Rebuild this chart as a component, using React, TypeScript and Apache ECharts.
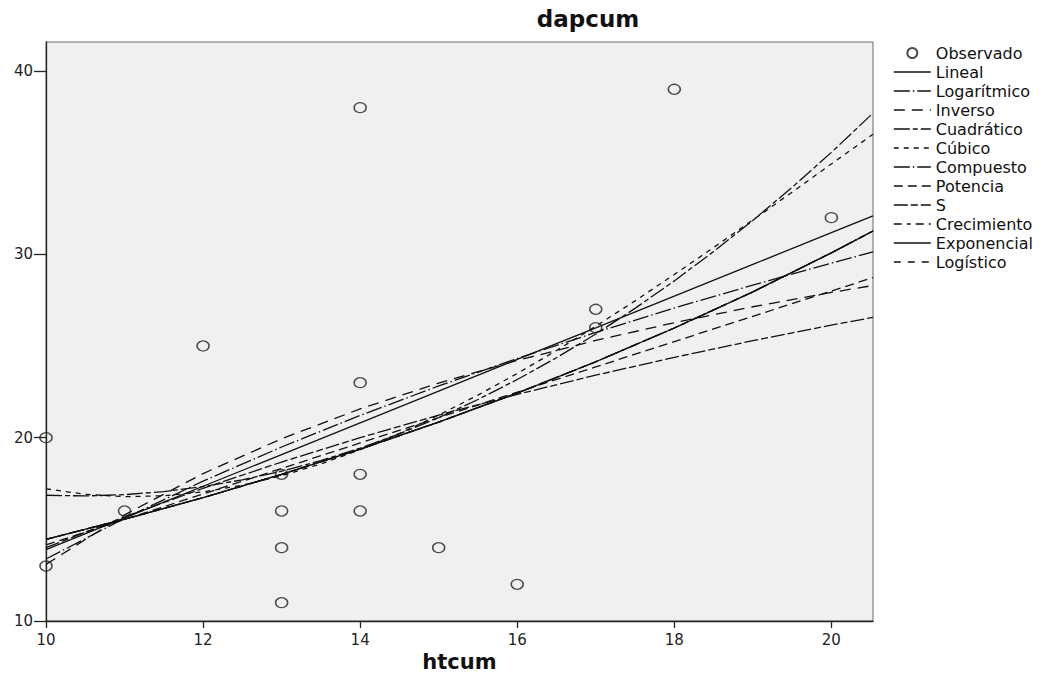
import React, { useEffect, useRef } from "react";
import * as echarts from "echarts";

// Observed points (htcum, dapcum)
const observedX = [10, 10, 11, 12, 13, 13, 13, 13, 14, 14, 14, 14, 15, 16, 17, 17, 18, 20];
const observedY = [20, 13, 16, 25, 18, 16, 14, 11, 38, 23, 18, 16, 14, 12, 27, 26, 39, 32];

// Fitted curves read along the x axis
const curveX = [10, 11, 12, 13, 14, 15, 16, 17, 18, 19, 20, 20.53];
const lineal = [13.89, 15.62, 17.35, 19.08, 20.81, 22.54, 24.27, 25.99, 27.72, 29.45, 31.18, 32.1];
const logaritmico = [13.38, 15.6, 17.63, 19.49, 21.21, 22.82, 24.32, 25.74, 27.07, 28.32, 29.52, 30.13];
const inverso = [13.09, 15.79, 18.04, 19.94, 21.57, 22.98, 24.21, 25.3, 26.27, 27.14, 27.92, 28.3];
const compuesto = [14.45, 15.55, 16.73, 18.0, 19.37, 20.85, 22.43, 24.14, 25.98, 27.95, 30.08, 31.27];
const potencia = [14.15, 15.54, 16.93, 18.32, 19.71, 21.09, 22.48, 23.86, 25.24, 26.62, 28.0, 28.73];
const sCurva = [14.0, 15.68, 17.24, 18.67, 20.0, 21.23, 22.36, 23.41, 24.38, 25.29, 26.14, 26.56];
const crecimiento = [14.45, 15.55, 16.73, 18.0, 19.37, 20.85, 22.43, 24.14, 25.98, 27.95, 30.08, 31.27];
const exponencial = [14.45, 15.55, 16.73, 18.0, 19.37, 20.85, 22.43, 24.14, 25.98, 27.95, 30.08, 31.27];
const logistico = [14.45, 15.55, 16.73, 18.0, 19.37, 20.85, 22.43, 24.14, 25.98, 27.95, 30.08, 31.27];

const polyX = [10, 10.5, 11, 11.5, 12, 12.5, 13, 13.5, 14, 14.5, 15, 15.5, 16, 16.5, 17, 17.5, 18, 18.5, 19, 19.5, 20, 20.53];
const cuadratico = [16.86, 16.82, 16.89, 17.06, 17.33, 17.7, 18.17, 18.75, 19.43, 20.21, 21.09, 22.08, 23.17, 24.36, 25.65, 27.05, 28.55, 30.15, 31.85, 33.65, 35.56, 37.7];
const cubico = [17.21, 16.91, 16.78, 16.83, 17.04, 17.41, 17.92, 18.57, 19.34, 20.23, 21.23, 22.32, 23.5, 24.75, 26.08, 27.46, 28.9, 30.37, 31.87, 33.39, 34.93, 36.55];

const xTicks = [10, 12, 14, 16, 18, 20];
const yTicks = [10, 20, 30, 40];

const curves: { name: string; x: number[]; y: number[] }[] = [
  { name: "Lineal", x: curveX, y: lineal },
  { name: "Logarítmico", x: curveX, y: logaritmico },
  { name: "Inverso", x: curveX, y: inverso },
  { name: "Cuadrático", x: polyX, y: cuadratico },
  { name: "Cúbico", x: polyX, y: cubico },
  { name: "Compuesto", x: curveX, y: compuesto },
  { name: "Potencia", x: curveX, y: potencia },
  { name: "S", x: curveX, y: sCurva },
  { name: "Crecimiento", x: curveX, y: crecimiento },
  { name: "Exponencial", x: curveX, y: exponencial },
  { name: "Logístico", x: curveX, y: logistico },
];

const dashStyle: Record<string, any> = {
  Lineal: "solid",
  "Logarítmico": [16, 3, 1.5, 3],
  Inverso: [11, 7],
  "Cuadrático": [16, 3, 5, 3],
  "Cúbico": [5, 5],
  Compuesto: [16, 3, 1.5, 3],
  Potencia: [9, 5],
  S: [14, 3, 7, 3],
  Crecimiento: [8, 5, 4, 5],
  Exponencial: "solid",
  "Logístico": [7, 7],
};

const FONT = "DejaVu Sans";

export default function App() {
  const ref = useRef<HTMLDivElement>(null);
  useEffect(() => {
    if (!ref.current) return;
    const chart = echarts.init(ref.current, null, { renderer: "svg" });
    const scatterData = observedX.map((x, i) => [x, observedY[i]]);
    const lineSeries = curves.map((c) => ({
      name: c.name,
      type: "line",
      data: c.x.map((x, i) => [x, c.y[i]]),
      symbol: "none",
      showSymbol: false,
      smooth: false,
      clip: true,
      lineStyle: { color: "#111", width: 1.3, type: dashStyle[c.name] },
      itemStyle: { color: "#111" },
      z: 2,
    }));
    chart.setOption({
      animation: false,
      backgroundColor: "#ffffff",
      title: {
        text: "dapcum",
        left: 583,
        top: 2,
        textAlign: "center",
        textStyle: { fontFamily: FONT, fontWeight: "bold", fontSize: 23, color: "#111" },
      },
      legend: {
        orient: "vertical",
        left: 893,
        top: 43.5,
        padding: 0,
        itemWidth: 37,
        itemHeight: 10,
        itemGap: 0,
        selectedMode: false,
        textStyle: { fontFamily: FONT, fontSize: 16, color: "#111", lineHeight: 19 },
        data: [
          { name: "Observado" },
          ...curves.map((c) => ({
            name: c.name,
            itemStyle: { opacity: 0 },
            lineStyle: { width: 1.6 },
          })),
        ],
      },
      grid: {
        left: 46,
        top: 42,
        right: 171,
        bottom: 62,
        show: true,
        backgroundColor: "#f0f0f0",
        borderColor: "#6a6a6a",
        borderWidth: 1,
      },
      xAxis: {
        type: "value",
        min: 10,
        max: 20.53,
        name: "htcum",
        nameLocation: "middle",
        nameGap: 17,
        nameTextStyle: { fontFamily: FONT, fontWeight: "bold", fontSize: 21, color: "#111" },
        axisLine: { show: true, onZero: false, lineStyle: { color: "#222", width: 1.3 } },
        axisTick: { show: true, inside: false, length: 7, customValues: xTicks, lineStyle: { color: "#222", width: 1.3 } },
        axisLabel: { customValues: xTicks, margin: 11, fontFamily: FONT, fontSize: 15, color: "#222" },
        splitLine: { show: false },
      },
      yAxis: {
        type: "value",
        min: 10,
        max: 41.58,
        axisLine: { show: true, onZero: false, lineStyle: { color: "#222", width: 1.3 } },
        axisTick: { show: true, inside: false, length: 12, customValues: yTicks, lineStyle: { color: "#222", width: 1.3 } },
        axisLabel: { customValues: yTicks, margin: 13, fontFamily: FONT, fontSize: 15, color: "#222" },
        splitLine: { show: false },
      },
      series: [
        {
          name: "Observado",
          type: "scatter",
          data: scatterData,
          symbol: "circle",
          symbolSize: [12, 10],
          itemStyle: { color: "rgba(0,0,0,0)", borderColor: "#222", borderWidth: 1.4 },
          z: 3,
        },
        ...lineSeries,
      ],
    });
    return () => chart.dispose();
  }, []);
  return <div ref={ref} style={{ position: "fixed", left: 0, top: 0, width: 1044, height: 683 }} />;
}
